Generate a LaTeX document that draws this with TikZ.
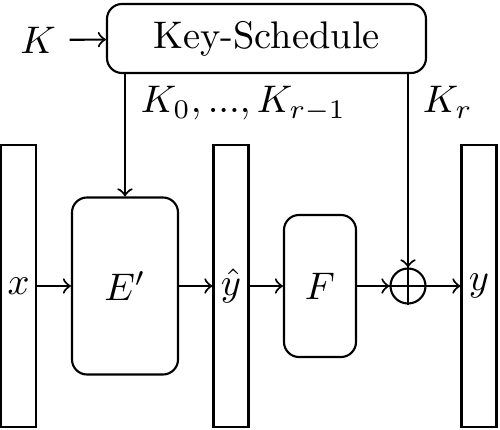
\documentclass[tikz,border=0pt]{standalone}
\begin{document}
\begin{tikzpicture}[x=0.26pt,y=-0.26pt, line width=0.55pt,
  bar/.style={draw, minimum width={35*0.26pt}, minimum height={282*0.26pt}, inner sep=0pt},
  blk/.style={draw, rounded corners=3.9pt, inner sep=0pt},
  lbl/.style={anchor=base west}]
\useasboundingbox (0,0) rectangle (500,429);
\node[bar] (x) at (18.5,286) {$x$};
\node[bar] (yh) at (231,286) {$\hat y$};
\node[bar] (y) at (479,286) {$y$};
\node[blk, minimum width={106*0.26pt}, minimum height={177*0.26pt}] (E) at (125,286) {$E'$};
\node[blk, minimum width={72*0.26pt}, minimum height={142*0.26pt}] (F) at (320,286) {$F$};
\node[draw, circle, minimum size={35*0.26pt}, inner sep=0pt] (xor) at (408,286) {};
\draw (xor.north) -- (xor.south) (xor.west) -- (xor.east);
\node[blk, minimum width={319*0.26pt}, minimum height={69*0.26pt}] (ks) at (266.5,38.5) {Key-Schedule};
\node (K) at (38,40) {$K$};
\draw[->] (K) -- (ks);
\draw[->] (E.north |- ks.south) -- (E.north);
\draw[->] (xor.north |- ks.south) -- (xor.north);
\node[lbl] (l1) at (127,113) {$K_0, ..., K_{r-1}$};
\node[lbl] (l2) at (409,113) {$K_r$};
\draw[->] (x) -- (E);
\draw[->] (E) -- (yh);
\draw[->] (yh) -- (F);
\draw[->] (F) -- (xor);
\draw[->] (xor) -- (y);
\end{tikzpicture}
\end{document}
